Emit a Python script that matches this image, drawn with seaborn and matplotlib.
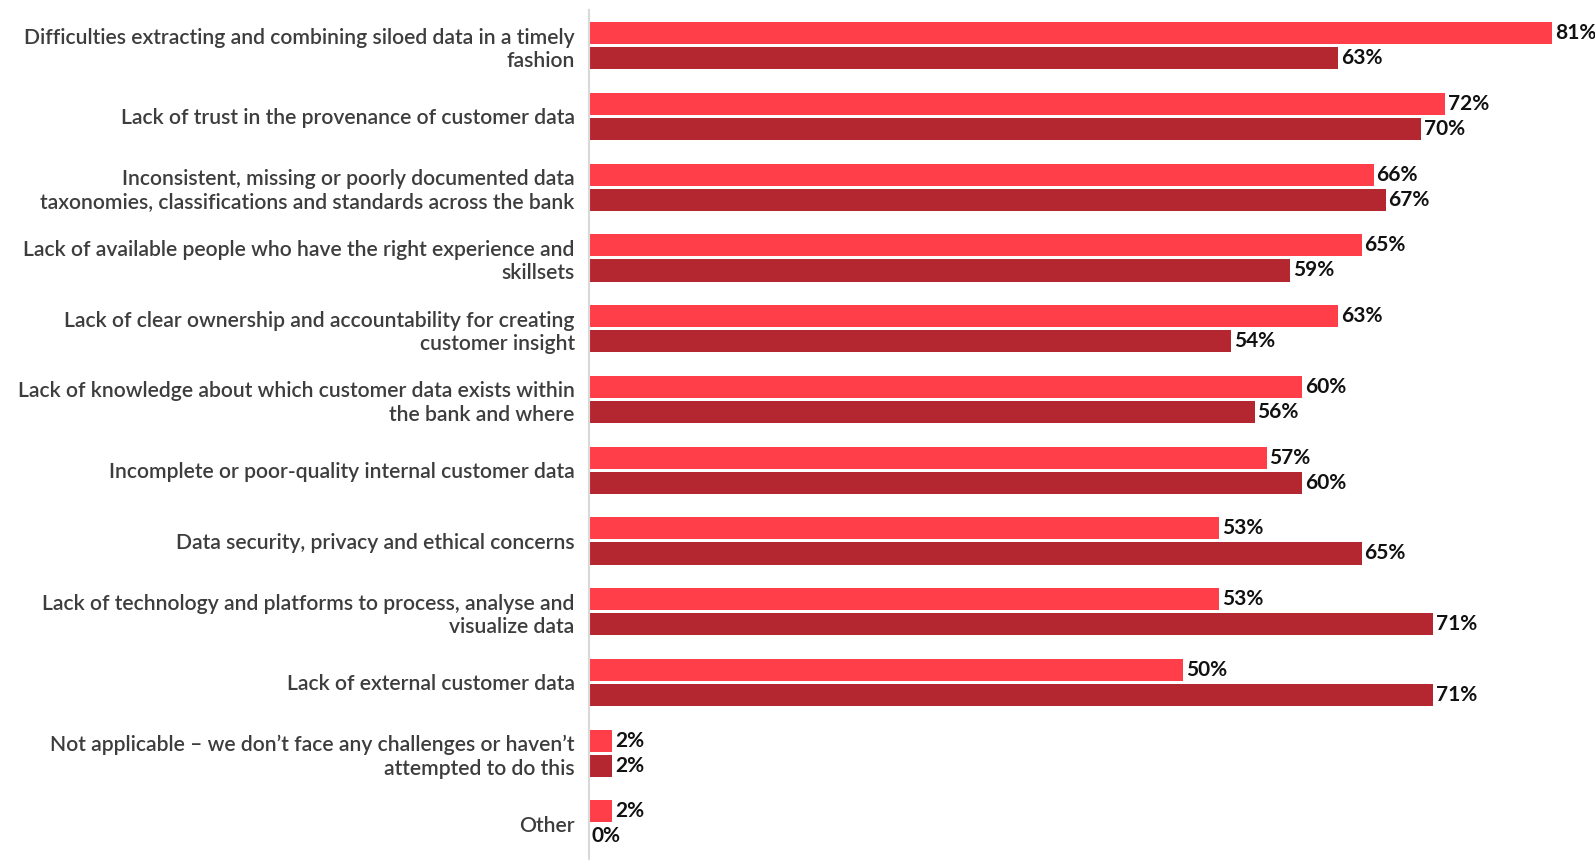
import matplotlib
matplotlib.use("Agg")
import matplotlib.pyplot as plt
import seaborn as sns
import pandas as pd

categories = [
    "Difficulties extracting and combining siloed data in a timely\nfashion",
    "Lack of trust in the provenance of customer data",
    "Inconsistent, missing or poorly documented data\ntaxonomies, classifications and standards across the bank",
    "Lack of available people who have the right experience and\nskillsets",
    "Lack of clear ownership and accountability for creating\ncustomer insight",
    "Lack of knowledge about which customer data exists within\nthe bank and where",
    "Incomplete or poor-quality internal customer data",
    "Data security, privacy and ethical concerns",
    "Lack of technology and platforms to process, analyse and\nvisualize data",
    "Lack of external customer data",
    "Not applicable \u2013 we don\u2019t face any challenges or haven\u2019t\nattempted to do this",
    "Other",
]
series_names = ["Series A", "Series B"]
values_a = [81, 72, 66, 65, 63, 60, 57, 53, 53, 50, 2, 2]
values_b = [63, 70, 67, 59, 54, 56, 60, 65, 71, 71, 2, 0]
colors = ["#FF3E4A", "#B52730"]

df = pd.DataFrame({
    "category": categories * 2,
    "series": [series_names[0]] * len(categories) + [series_names[1]] * len(categories),
    "value": values_a + values_b,
})

sns.set_theme(style="white")
plt.rcParams["font.family"] = ["Lato", "DejaVu Sans"]

fig = plt.figure(figsize=(15.95, 8.61), dpi=100)
ax = fig.add_axes([0.369, 0.002, 0.631, 0.986])

sns.barplot(data=df, y="category", x="value", hue="series", orient="h",
            palette=colors, width=0.71, gap=0.12, dodge=True, ax=ax,
            legend=False, saturation=1, edgecolor="none", order=categories,
            hue_order=series_names)

for cont in ax.containers:
    ax.bar_label(cont, labels=[f"{v:.0f}%" for v in cont.datavalues], padding=2,
                 fontsize=15, fontweight="bold", color="#111111")

ax.set_xlim(0, 84.6)
ax.set_ylim(11.5, -0.5)
ax.set_xlabel("")
ax.set_ylabel("")
ax.set_xticks([])
ax.tick_params(axis="y", length=0, pad=10)
for lab in ax.get_yticklabels():
    lab.set_fontsize(15.2)
    lab.set_color("#3d3d3d")
    lab.set_fontweight("semibold")
    lab.set_horizontalalignment("right")
    lab.set_multialignment("right")
for s in ["top", "right", "bottom"]:
    ax.spines[s].set_visible(False)
ax.spines["left"].set_color("#d9d9d9")
ax.spines["left"].set_linewidth(1.5)

fig.savefig("out.png", dpi=100, facecolor="white")
